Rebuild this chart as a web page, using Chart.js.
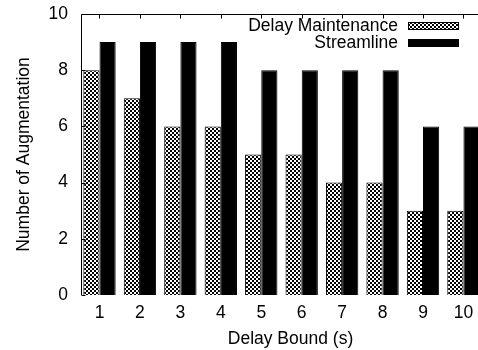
<!DOCTYPE html>
<html>
<head>
<meta charset="utf-8">
<script src="https://cdn.jsdelivr.net/npm/chart.js@4/dist/chart.umd.min.js"></script>
<style>
  html, body { margin: 0; padding: 0; background: #fff; overflow: hidden; }
  #wrap { width: 478px; height: 350px; overflow: hidden; }
</style>
</head>
<body>
<div id="wrap"><canvas id="chart" width="500" height="350"></canvas></div>
<script>
const delayBounds = [1, 2, 3, 4, 5, 6, 7, 8, 9, 10];
const delayMaintenance = [8, 7, 6, 6, 5, 5, 4, 4, 3, 3];
const streamline = [9, 9, 9, 9, 8, 8, 8, 8, 6, 6];
const yTicks = [0, 2, 4, 6, 8, 10];

const FONT = { family: "'Liberation Sans', Arial, sans-serif", size: 17.5 };

// checkerboard fill like gnuplot's pattern 
function makeChecker() {
    const c = document.createElement('canvas');
    c.width = 4; c.height = 4;
    const g = c.getContext('2d');
    g.fillStyle = '#fff';
    g.fillRect(0, 0, 4, 4);
    g.fillStyle = '#000';
    g.fillRect(0, 0, 2, 2);
    g.fillRect(2, 2, 2, 2);
    return g.createPattern(c, 'repeat');
}
const checker = makeChecker();

// gnuplot-like key: text right aligned, sample box after it
const keyPlugin = {
    id: 'gnuKey',
    afterDraw(chart) {
        const ctx = chart.ctx;
        ctx.save();
        ctx.font = FONT.size + 'px ' + FONT.family;
        ctx.textAlign = 'right';
        ctx.textBaseline = 'middle';
        chart.data.datasets.forEach((ds, i) => {
            const y = 26 + i * 17;
            ctx.fillStyle = '#000';
            ctx.fillText(ds.label, 398, y);
            ctx.fillStyle = ds.backgroundColor;
            ctx.fillRect(408, y - 4, 51, 8);
            ctx.strokeStyle = '#000';
            ctx.lineWidth = 1;
            ctx.strokeRect(408.5, y - 3.5, 50, 7);
        });
        ctx.restore();
    }
};

// left + top border with mirrored tics
const framePlugin = {
    id: 'frame',
    afterDatasetsDraw(chart) {
        const { ctx, chartArea } = chart;
        const xs = chart.scales.x, ys = chart.scales.y;
        ctx.save();
        ctx.strokeStyle = '#000';
        ctx.lineWidth = 1;
        ctx.beginPath();
        const l = Math.round(chartArea.left) + 0.5;
        const t = Math.round(chartArea.top) + 0.5;
        ctx.moveTo(l, chartArea.bottom);
        ctx.lineTo(l, t);
        ctx.lineTo(chartArea.right, t);
        xs.ticks.forEach(tk => {
            const px = Math.round(xs.getPixelForValue(tk.value)) + 0.5;
            ctx.moveTo(px, t);
            ctx.lineTo(px, t + 4);
        });
        ys.ticks.forEach(tk => {
            const py = Math.round(ys.getPixelForValue(tk.value)) + 0.5;
            ctx.moveTo(l, py);
            ctx.lineTo(l + 4, py);
        });
        ctx.stroke();
        ctx.restore();
    }
};

new Chart(document.getElementById('chart'), {
    type: 'bar',
    data: {
        datasets: [
            {
                label: 'Delay Maintenance',
                data: delayMaintenance.map((v, i) => ({ x: delayBounds[i], y: v })),
                backgroundColor: checker,
                borderColor: '#000',
                borderWidth: 1
            },
            {
                label: 'Streamline',
                data: streamline.map((v, i) => ({ x: delayBounds[i], y: v })),
                backgroundColor: '#000',
                borderColor: '#000',
                borderWidth: 1
            }
        ]
    },
    options: {
        responsive: false,
        animation: false,
        devicePixelRatio: 1,
        layout: { padding: { top: 14, right: 0, bottom: 0, left: 0 } },
        plugins: {
            legend: { display: false },
            tooltip: { enabled: false }
        },
        datasets: {
            bar: { categoryPercentage: 0.8, barPercentage: 1.0 }
        },
        scales: {
            x: {
                type: 'linear',
                offset: false,
                min: 0.5426,
                max: 10.904,
                grid: { display: false, drawTicks: false },
                border: { display: false },
                ticks: { color: '#000', font: FONT, padding: 8 },
                afterBuildTicks(scale) {
                    scale.ticks = delayBounds.map(v => ({ value: v }));
                },
                afterFit(scale) {
                    scale.height = 55;
                    scale.paddingLeft = 0;
                    scale.paddingRight = 0;
                },
                title: { display: true, text: 'Delay Bound (s)', color: '#000', font: FONT, padding: { top: 0, bottom: 0 } }
            },
            y: {
                min: 0,
                max: 10,
                grid: { display: false, drawTicks: false },
                border: { display: false },
                ticks: { color: '#000', font: FONT, padding: 13 },
                afterBuildTicks(scale) {
                    scale.ticks = yTicks.map(v => ({ value: v }));
                },
                afterFit(scale) {
                    scale.width = 81;
                    scale.paddingTop = 0;
                    scale.paddingBottom = 0;
                },
                title: { display: true, text: 'Number of Augmentation', color: '#000', font: FONT, padding: { top: 14, bottom: 0 } }
            }
        }
    },
    plugins: [keyPlugin, framePlugin]
});
</script>
</body>
</html>
